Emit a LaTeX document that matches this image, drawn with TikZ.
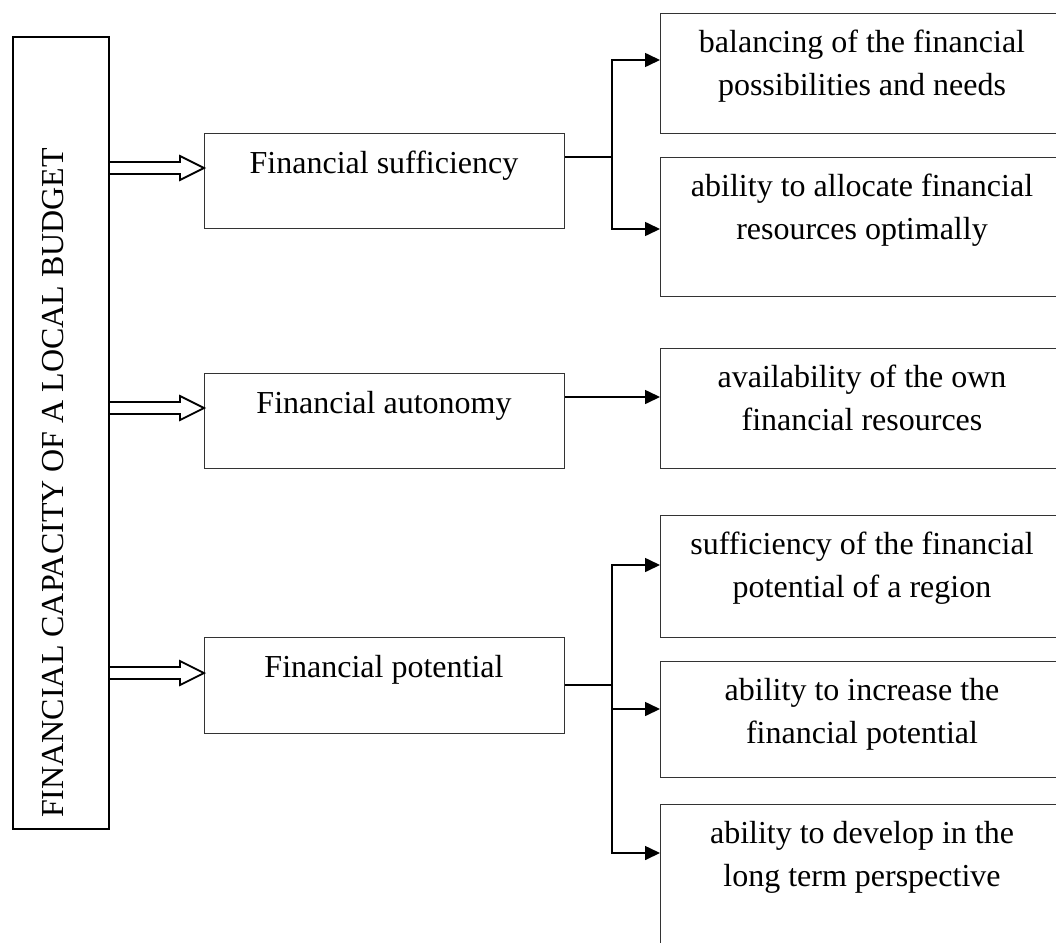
\documentclass[tikz,border=0pt]{standalone}
\usepackage{fontspec}
\setmainfont{Liberation Serif}
\usetikzlibrary{arrows.meta,calc}
\newcommand\fatarrow[3]{%
  \draw[dbl] ($(#1.east |- 0,#3)+(0,-6)$) -- ($(#2.west |- 0,#3)+(-24,-6)$)
    -- ($(#2.west |- 0,#3)+(-24,-12)$) -- (#2.west |- 0,#3)
    -- ($(#2.west |- 0,#3)+(-24,12)$) -- ($(#2.west |- 0,#3)+(-24,6)$)
    -- ($(#1.east |- 0,#3)+(0,6)$);}
\begin{document}
\begin{tikzpicture}[x=1pt,y=-1pt,
  boxline/.style={draw=black!80, line width=1.3pt, inner sep=0pt, anchor=north west},
  leftbox/.style={draw=black, line width=2pt, inner sep=0pt, anchor=north west},
  txt/.style={font=\fontsize{32}{43}\selectfont, inner sep=0pt, align=center},
  conn/.style={draw=black, line width=1.6pt},
  tip/.style={-{Triangle[length=15pt,width=14pt]}},
  dbl/.style={draw=black, line width=1.8pt, fill=white, line join=miter}]
\useasboundingbox (0,0) rectangle (1056,942);
\clip (0,0) rectangle (1056,942);
% boxes
\node[leftbox, minimum width=96pt, minimum height=792pt] (L) at (12,36) {};
\node[boxline, minimum width=360pt, minimum height=95pt] (m1) at (204,133) {};
\node[boxline, minimum width=360pt, minimum height=95pt] (m2) at (204,373) {};
\node[boxline, minimum width=360pt, minimum height=96pt] (m3) at (204,637) {};
\node[boxline, minimum width=402pt, minimum height=120pt] (r1) at (660,13) {};
\node[boxline, minimum width=402pt, minimum height=139pt] (r2) at (660,157) {};
\node[boxline, minimum width=402pt, minimum height=120pt] (r3) at (660,348) {};
\node[boxline, minimum width=402pt, minimum height=122pt] (r4) at (660,515) {};
\node[boxline, minimum width=402pt, minimum height=116pt] (r5) at (660,661) {};
\node[boxline, minimum width=402pt, minimum height=150pt] (r6) at (660,804) {};
% hollow arrows
\fatarrow{L}{m1}{168}
\fatarrow{L}{m2}{408}
\fatarrow{L}{m3}{673}
% connectors
\coordinate (j1) at (612,157);
\coordinate (j3) at (612,685);
\draw[conn] (m1.east |- j1) -- (j1);
\draw[conn,tip] (j1) |- (r1.west |- 0,60);
\draw[conn,tip] (j1) |- (r2.west |- 0,229);
\draw[conn,tip] (m2.east |- 0,397) -- (r3.west |- 0,397);
\draw[conn] (m3.east |- j3) -- (j3);
\draw[conn,tip] (j3) |- (r4.west |- 0,565);
\draw[conn,tip] (j3) |- (r5.west |- 0,709);
\draw[conn,tip] (j3) |- (r6.west |- 0,853);
% texts
\node[txt, rotate=90, anchor=base west] (lt) at (63,818) {FINANCIAL CAPACITY OF A LOCAL BUDGET};
\node[txt, anchor=base] (t1) at (384,173) {Financial sufficiency};
\node[txt, anchor=base] (t2) at (384,413) {Financial autonomy};
\node[txt, anchor=base] (t3) at (384,677) {Financial potential};
\node[txt, anchor=north] (u1) at (862,30) {balancing of the financial\\possibilities and needs};
\node[txt, anchor=north] (u2) at (862,174) {ability to allocate financial\\resources optimally};
\node[txt, anchor=north] (u3) at (862,365) {availability of the own\\financial resources};
\node[txt, anchor=north] (u4) at (862,532) {sufficiency of the financial\\potential of a region};
\node[txt, anchor=north] (u5) at (862,678) {ability to increase the\\financial potential};
\node[txt, anchor=north] (u6) at (862,821) {ability to develop in the\\long term perspective};
\end{tikzpicture}
\end{document}
